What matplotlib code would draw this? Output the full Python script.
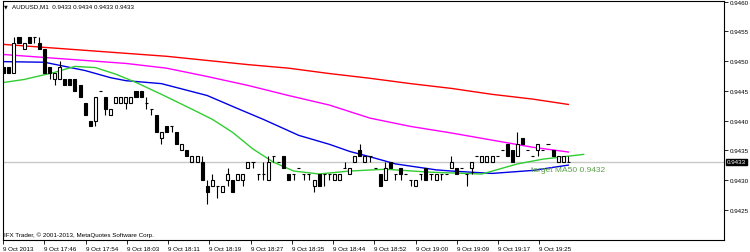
import numpy as np
import matplotlib.pyplot as plt
from matplotlib.patches import Rectangle

plt.rcParams['font.family'] = ['Liberation Sans', 'DejaVu Sans']

# M1 candles, AUDUSD
opens = [0.9449, 0.9449, 0.9448, 0.9454, 0.9452, 0.9454, 0.9454, 0.9453, 0.9452, 0.9449,
         0.9447, 0.9447, 0.9447, 0.9447, 0.9447, 0.9446, 0.9443, 0.9440, 0.9440, 0.9445,
         0.9444, 0.9441, 0.9443, 0.9443, 0.9443, 0.9443, 0.9445, 0.9445, 0.9443, 0.9442,
         0.9441, 0.9437, 0.9439, 0.9439, 0.9438, 0.9435, 0.9435, 0.9433, 0.9433, 0.9433,
         0.9429, 0.9429, 0.9429, 0.9428, 0.9430, 0.9430, 0.9430, 0.9430, 0.9432, 0.9433,
         0.9431, 0.9431, 0.9430, 0.9434, 0.9433, 0.9434, 0.9431, 0.9431, 0.9432, 0.9431,
         0.9431, 0.9429, 0.9431, 0.9431, 0.9431, 0.9430, 0.9430, 0.9432, 0.9431, 0.9433,
         0.9435, 0.9433, 0.9434, 0.9432, 0.9431, 0.9430, 0.9433, 0.9431, 0.9432, 0.9431,
         0.9430, 0.9429, 0.9431, 0.9432, 0.9431, 0.9430, 0.9431, 0.9431, 0.9432, 0.9432,
         0.9432, 0.9431, 0.9432, 0.9434, 0.9433, 0.9433, 0.9433, 0.9434, 0.9435, 0.9436,
         0.9435, 0.9434, 0.9437, 0.9435, 0.9434, 0.9435, 0.9435, 0.9436, 0.9435, 0.9433,
         0.9433, 0.9433]
highs = [0.9449, 0.9449, 0.9454, 0.9454, 0.9453, 0.9454, 0.9454, 0.9454, 0.9452, 0.9449,
         0.9448, 0.9450, 0.9447, 0.9447, 0.9447, 0.9446, 0.9443, 0.9440, 0.9444, 0.9445,
         0.9444, 0.9442, 0.9444, 0.9444, 0.9444, 0.9444, 0.9445, 0.9445, 0.9444, 0.9442,
         0.9441, 0.9438, 0.9439, 0.9439, 0.9438, 0.9436, 0.9435, 0.9434, 0.9434, 0.9434,
         0.9430, 0.9431, 0.9429, 0.9429, 0.9432, 0.9430, 0.9431, 0.9431, 0.9433, 0.9433,
         0.9431, 0.9433, 0.9434, 0.9434, 0.9433, 0.9434, 0.9431, 0.9431, 0.9432, 0.9431,
         0.9431, 0.9430, 0.9431, 0.9431, 0.9431, 0.9431, 0.9431, 0.9433, 0.9432, 0.9434,
         0.9436, 0.9434, 0.9434, 0.9432, 0.9431, 0.9433, 0.9433, 0.9431, 0.9432, 0.9431,
         0.9430, 0.9430, 0.9431, 0.9432, 0.9431, 0.9431, 0.9431, 0.9431, 0.9434, 0.9432,
         0.9432, 0.9431, 0.9433, 0.9434, 0.9434, 0.9434, 0.9434, 0.9434, 0.9435, 0.9436,
         0.9435, 0.9438, 0.9437, 0.9435, 0.9434, 0.9436, 0.9435, 0.9436, 0.9435, 0.9434,
         0.9434, 0.9434]
lows = [0.9448, 0.9448, 0.9448, 0.9453, 0.9452, 0.9453, 0.9453, 0.9452, 0.9448, 0.9447,
        0.9446, 0.9447, 0.9446, 0.9446, 0.9445, 0.9444, 0.9441, 0.9439, 0.9439, 0.9445,
        0.9441, 0.9441, 0.9443, 0.9443, 0.9442, 0.9443, 0.9444, 0.9444, 0.9442, 0.9441,
        0.9438, 0.9436, 0.9438, 0.9438, 0.9436, 0.9435, 0.9434, 0.9433, 0.9433, 0.9430,
        0.9426, 0.9429, 0.9427, 0.9428, 0.9429, 0.9428, 0.9430, 0.9429, 0.9432, 0.9432,
        0.9430, 0.9430, 0.9430, 0.9433, 0.9433, 0.9432, 0.9430, 0.9430, 0.9432, 0.9430,
        0.9430, 0.9428, 0.9429, 0.9429, 0.9430, 0.9430, 0.9430, 0.9432, 0.9431, 0.9433,
        0.9434, 0.9433, 0.9433, 0.9432, 0.9429, 0.9430, 0.9432, 0.9430, 0.9430, 0.9431,
        0.9429, 0.9429, 0.9430, 0.9430, 0.9430, 0.9430, 0.9430, 0.9431, 0.9432, 0.9431,
        0.9432, 0.9429, 0.9431, 0.9434, 0.9433, 0.9433, 0.9433, 0.9434, 0.9435, 0.9434,
        0.9433, 0.9434, 0.9436, 0.9435, 0.9434, 0.9434, 0.9435, 0.9436, 0.9434, 0.9433,
        0.9433, 0.9433]
closes = [0.9448, 0.9448, 0.9453, 0.9453, 0.9453, 0.9453, 0.9454, 0.9452, 0.9448, 0.9448,
          0.9448, 0.9449, 0.9446, 0.9446, 0.9445, 0.9444, 0.9441, 0.9439, 0.9444, 0.9445,
          0.9442, 0.9442, 0.9444, 0.9444, 0.9444, 0.9444, 0.9444, 0.9444, 0.9443, 0.9442,
          0.9438, 0.9438, 0.9438, 0.9439, 0.9436, 0.9436, 0.9434, 0.9434, 0.9434, 0.9430,
          0.9428, 0.9430, 0.9429, 0.9429, 0.9431, 0.9428, 0.9431, 0.9431, 0.9433, 0.9433,
          0.9431, 0.9431, 0.9433, 0.9434, 0.9433, 0.9432, 0.9430, 0.9431, 0.9432, 0.9431,
          0.9431, 0.9430, 0.9429, 0.9431, 0.9431, 0.9431, 0.9431, 0.9432, 0.9432, 0.9434,
          0.9434, 0.9434, 0.9434, 0.9432, 0.9429, 0.9432, 0.9432, 0.9431, 0.9431, 0.9431,
          0.9430, 0.9430, 0.9431, 0.9430, 0.9431, 0.9431, 0.9431, 0.9431, 0.9433, 0.9431,
          0.9432, 0.9431, 0.9433, 0.9434, 0.9434, 0.9434, 0.9434, 0.9434, 0.9435, 0.9434,
          0.9433, 0.9436, 0.9436, 0.9435, 0.9434, 0.9436, 0.9435, 0.9436, 0.9434, 0.9434,
          0.9434, 0.9433]

# moving averages
ma_bars = [0, 8, 16, 24, 32, 40, 48, 56, 64, 72, 80, 88, 96, 104, 111]
ma_red = [0.94528, 0.94523, 0.94518, 0.94513, 0.94508, 0.94501, 0.94494, 0.94488,
          0.94479, 0.94471, 0.94462, 0.94454, 0.94444, 0.94436, 0.94427]
ma_magenta = [0.94511, 0.94506, 0.94501, 0.94496, 0.94488, 0.94474, 0.94459, 0.94442,
              0.94426, 0.94404, 0.94390, 0.94379, 0.94367, 0.94355, 0.94347]
blue_bars = [0, 8, 16, 21, 24, 31, 40, 46, 51, 58, 64, 68, 72, 77, 85, 88, 96, 104, 111]
ma_blue = [0.94499, 0.94498, 0.94484, 0.94472, 0.94467, 0.94462, 0.94442, 0.94420,
           0.94402, 0.94375, 0.94360, 0.94348, 0.94339, 0.94327, 0.94317, 0.94315,
           0.94311, 0.94316, 0.94325]
green_bars = [0, 4, 10, 14, 18, 22, 26, 31, 37, 41, 45, 49, 53, 57, 62, 68, 75, 84,
              94, 101, 106, 111, 114]
ma_green = [0.94464, 0.94469, 0.94481, 0.94491, 0.94489, 0.94478, 0.94464, 0.94444,
            0.94419, 0.94402, 0.94380, 0.94352, 0.94330, 0.94315, 0.94310, 0.94315,
            0.94318, 0.94313, 0.94310, 0.94327, 0.94335, 0.94340, 0.94343]

time_labels = ["9 Oct 2013", "9 Oct 17:46", "9 Oct 17:54", "9 Oct 18:03", "9 Oct 18:11",
               "9 Oct 18:19", "9 Oct 18:27", "9 Oct 18:35", "9 Oct 18:44", "9 Oct 18:52",
               "9 Oct 19:00", "9 Oct 19:09", "9 Oct 19:17", "9 Oct 19:25"]
price_ticks = [0.9425, 0.9430, 0.9435, 0.9440, 0.9445, 0.9450, 0.9455, 0.9460]
bid = 0.9433

fig = plt.figure(figsize=(7.5, 2.53), dpi=100)
ax = fig.add_axes([3 / 750, 12 / 253, 721 / 750, 239 / 253])

ax.axhline(bid, color='#c8c8c8', lw=1, zorder=0)

w = 0.6
for i in range(len(opens)):
    o, h, l, c = opens[i], highs[i], lows[i], closes[i]
    if h > l:
        ax.vlines(i, l, h, color='black', lw=0.8, zorder=3)
    if c == o:
        ax.hlines(o, i - w / 2, i + w / 2, color='black', lw=0.8, zorder=4)
    else:
        fc = 'white' if c > o else 'black'
        ax.add_patch(Rectangle((i - w / 2, min(o, c)), w, abs(c - o),
                               facecolor=fc, edgecolor='black', lw=0.8, zorder=4))

ax.plot(ma_bars, ma_red, color='#ff0000', lw=1.0, zorder=2)
ax.plot(ma_bars, ma_magenta, color='#ff00ff', lw=1.0, zorder=2)
ax.plot(blue_bars, ma_blue, color='#0000e6', lw=1.0, zorder=2)
ax.plot(green_bars, ma_green, color='#32cd32', lw=1.0, zorder=2)

ax.text(103.6, 0.94323, "target MA50 0.9432", color='#5aa04a', fontsize=6,
        va='top', ha='left', zorder=5)

ax.set_xlim(-0.1, 141.6)
ax.set_ylim(0.94199, 0.94601)

ax.set_xticks(np.arange(len(time_labels)) * 8.11 - 0.15)
ax.set_xticklabels(time_labels, ha='left', fontsize=4.5)
ax.tick_params(axis='x', direction='out', length=3, width=0.6, pad=1)

ax.yaxis.tick_right()
ax.set_yticks(price_ticks)
ax.set_yticklabels(["%.4f" % p for p in price_ticks], fontsize=4.5)
ax.tick_params(axis='y', direction='out', length=3, width=0.6, pad=1.5)

for s in ax.spines.values():
    s.set_linewidth(0.8)
    s.set_color('black')

fig.text(4 / 750, 1 - 7 / 253, u"\u25bc", fontsize=3.5, va='center', family='DejaVu Sans')
fig.text(12 / 750, 1 - 7 / 253, "AUDUSD,M1  0.9433 0.9434 0.9433 0.9433",
         fontsize=4.5, va='center')
fig.text(4 / 750, 1 - 235 / 253, u"IFX Trader, \u00a9 2001-2013, MetaQuotes Software Corp.",
         fontsize=4.5, va='center')
fig.text(727 / 750, 1 - 163 / 253, "0.9433", color='white', fontsize=4.5, va='center',
         bbox=dict(boxstyle='square,pad=0.15', facecolor='black', edgecolor='black'))

fig.savefig('out.png', dpi=100)
